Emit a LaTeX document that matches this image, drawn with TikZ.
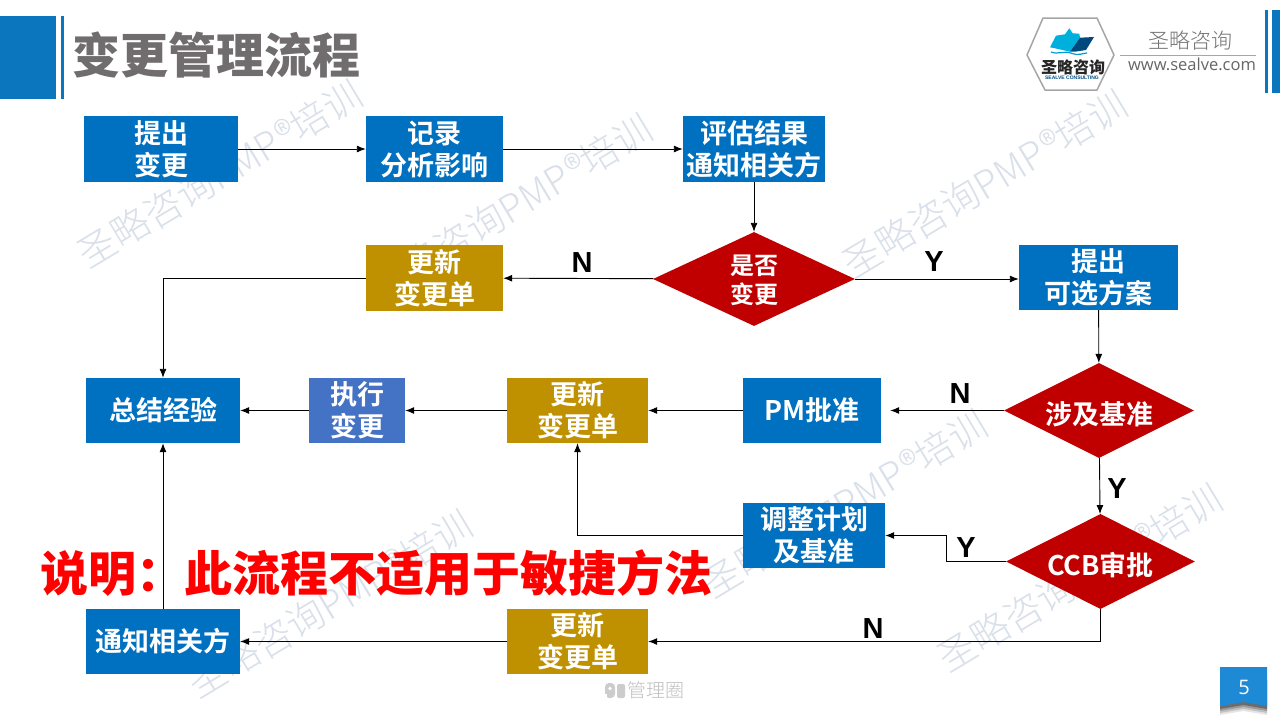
\documentclass[tikz,border=0pt]{standalone}
\usepackage{fontspec}
\usetikzlibrary{shapes.geometric,arrows.meta}
\setmainfont{Noto Sans CJK SC}
\newfontfamily\cjkb{Noto Sans CJK SC Bold}
\newfontfamily\cjkh{Noto Sans CJK SC Black}
\newfontfamily\cjkl{Noto Sans CJK SC Light}
\newfontfamily\latinf{Open Sans}
\newfontfamily\arialf{Liberation Sans}
\definecolor{barblue}{HTML}{0B76BE}
\definecolor{boxblue}{HTML}{0070C0}
\definecolor{execblue}{HTML}{4472C4}
\definecolor{gold}{HTML}{BF9000}
\definecolor{darkred}{HTML}{C00000}
\definecolor{titlegray}{HTML}{716D6E}
\definecolor{wm}{HTML}{D9E0EA}
\definecolor{tagblue}{HTML}{1E8AD6}
\tikzset{
  x=1pt,y=-1pt,
  boxbase/.style={rectangle,inner sep=0pt,text=white,align=center,font=\fontsize{27}{32}\selectfont\cjkb},
  bluebox/.style={boxbase,fill=boxblue},
  goldbox/.style={boxbase,fill=gold},
  execbox/.style={boxbase,fill=execblue},
  dia/.style={diamond,aspect=2,inner sep=0pt,fill=darkred,text=white,align=center,font=\fontsize{27}{32}\selectfont\cjkb},
  flow/.style={draw=black,line width=0.9pt,-{Latex[length=9pt,width=7pt]}},
  yn/.style={inner sep=0pt,text=black,font=\fontsize{29}{30}\selectfont\arialf\bfseries},
  wmark/.style={inner sep=0pt,text=wm,rotate=31,font=\fontsize{38}{40}\selectfont\cjkl},
}
\newcommand{\bx}[6]{\node[#1,minimum width=#5-#3,minimum height=#6-#4] (#2) at ({(#3+#5)/2},{(#4+#6)/2})}
\begin{document}
\begin{tikzpicture}
\useasboundingbox (0,0) rectangle (1280,720);
\fill[white] (0,0) rectangle (1280,720);
% watermarks
\node[wmark] (w1) at (220,174) {圣略咨询PMP®培训};
\node[wmark] (w2) at (510,208) {圣略咨询PMP®培训};
\node[wmark] (w3) at (985,184) {圣略咨询PMP®培训};
\node[wmark] (w4) at (845,504) {圣略咨询PMP®培训};
\node[wmark] (w5) at (1080,578) {圣略咨询PMP®培训};
\node[wmark] (w6) at (330,604) {圣略咨询PMP®培训};
% header
\fill[barblue] (0,16) rectangle (56,99);
\fill[barblue] (61,16) rectangle (64,99);
\fill[barblue] (1265,10) rectangle (1268,93);
\fill[barblue] (1272,10) rectangle (1280,93);
\node[inner sep=0pt,text=titlegray,font=\fontsize{48}{50}\selectfont\cjkh] (title) at (216.5,55) {变更管理流程};
% logo
\draw[draw=black!35,line width=1.5pt,fill=white] (1043,18) -- (1097,18) -- (1114,55) -- (1097,90) -- (1045,90) -- (1027,55) -- cycle;
\fill[boxblue!55!cyan] (1050,47.3) -- (1056,35.7) -- (1065,34.3) -- (1069.3,28.3) -- (1072.7,33.3) -- (1079.3,33.7) -- (1080,37.7) -- (1070,51.7) -- (1055,48.3) -- cycle;
\fill[boxblue!65!black] (1080,37.7) -- (1094,37) -- (1086,50) -- (1075,51.7) -- (1070,51.7) -- cycle;
\draw[boxblue!70!cyan,line width=1.2pt] (1051,52) .. controls (1058,55) and (1065,50) .. (1072,53.5) .. controls (1078,56) and (1084,53) .. (1087,53);
\node[inner sep=0pt,text=black!85,font=\fontsize{16}{16}\selectfont\cjkh] (logoa) at (1073,67) {圣略咨询};
\node[inner sep=0pt,text=boxblue!70!black,font=\fontsize{5}{5}\selectfont\arialf\bfseries] (logob) at (1072,78) {SEALVE CONSULTING};
\node[inner sep=0pt,text=black!55,font=\fontsize{21}{22}\selectfont\cjkl] (brand) at (1190,41) {圣略咨询};
\draw[black!35,line width=0.8pt] (1120,55) -- (1256,55);
\node[inner sep=0pt,text=black!60,font=\fontsize{16.5}{18}\selectfont\latinf] (site) at (1192,64) {www.sealve.com};
% boxes
\bx{bluebox}{a}{84}{116}{238}{182} {提出\\变更};
\bx{bluebox}{b}{366}{116}{503}{182} {记录\\分析影响};
\bx{bluebox}{c}{683}{116}{825}{182} {评估结果\\通知相关方};
\bx{dia}{d}{653}{232}{855}{326} {\raisebox{-4.5pt}[\height][\depth]{\fontsize{24}{29}\selectfont\begin{tabular}{@{}c@{}}是否\\变更\end{tabular}}};
\bx{goldbox}{e}{366}{245}{503}{311} {更新\\变更单};
\bx{bluebox}{f}{1019}{245}{1178}{310} {提出\\可选方案};
\bx{dia}{g}{1004}{363}{1194}{458} {\raisebox{-4pt}[\height][\depth]{涉及基准}};
\bx{bluebox}{h}{743}{378}{881}{443} {PM批准};
\bx{goldbox}{i}{507}{378}{648}{443} {更新\\变更单};
\bx{execbox}{j}{309}{378}{405}{443} {执行\\变更};
\bx{bluebox}{k}{86}{378}{240}{443} {总结经验};
\bx{bluebox}{l}{743}{503}{885}{568} {调整计划\\及基准};
\bx{dia}{m}{1006}{514}{1195}{609} {\raisebox{-4pt}[\height][\depth]{CCB审批}};
\bx{goldbox}{n}{507}{609}{648}{674} {更新\\变更单};
\bx{bluebox}{o}{86}{609}{240}{674} {通知相关方};
% connectors
\draw[flow] (a) -- (b);
\draw[flow] (b) -- (c);
\draw[flow] (c) -- (d);
\draw[flow] (d) -- (e);
\draw[flow] (d) -- (f.west |- d);
\draw[flow] (e.west) -| (k.north);
\draw[flow] (f) -- (g);
\draw[flow,shorten >=9pt] (g) -- (h);
\draw[flow] (h) -- (i);
\draw[flow] (i) -- (j);
\draw[flow] (j) -- (k);
\draw[flow] (g) -- (m);
\coordinate (mid) at (946,548);
\draw[flow] (m.west) -| (mid) |- (l.east);
\draw[flow] (l.west) -| (i.south);
\draw[flow] (m.south) |- (n.east);
\draw[flow] (n) -- (o);
\draw[flow] (o) -- (k);
% labels
\node[yn] (n1) at (582,263) {N};
\node[yn] (y1) at (934,262) {Y};
\node[yn] (n2) at (960,394) {N};
\node[yn] (y2) at (1117,489) {Y};
\node[yn] (y3) at (966,548) {Y};
\node[yn] (n3) at (873,629) {N};
% note
\node[inner sep=0pt,text=red,anchor=west,font=\fontsize{48}{50}\selectfont\cjkh] (note) at (40,573) {说明：此流程不适用于敏捷方法};
% footer
\fill[black!20,rounded corners=4pt] (605,698) -- (605,683) -- (615,683) -- (615,698) -- cycle;
\fill[white] (610,688.5) circle (1.8pt);
\fill[white] (605,698) rectangle (607,694);
\fill[black!20,rounded corners=2pt] (617,698) -- (617,684) -- (625,684) -- (625,698) -- cycle;
\node[inner sep=0pt,text=black!25,font=\fontsize{19}{20}\selectfont\cjkl] (foot) at (656,690) {管理圈};
% page tag
\foreach \d/\o in {9/0.10,7/0.15,5/0.2,3/0.3}{
  \fill[black,opacity=\o] (1220,680) -- (1267,680) -- (1267,706+\d) -- (1243.5,702+\d) -- (1220,706+\d) -- cycle;
}
\fill[tagblue] (1220,667) -- (1267,667) -- (1267,706) -- (1243.5,702) -- (1220,706) -- cycle;
\node[inner sep=0pt,text=white,font=\fontsize{20}{20}\selectfont\latinf] (page) at (1244,687) {5};
\end{tikzpicture}
\end{document}
